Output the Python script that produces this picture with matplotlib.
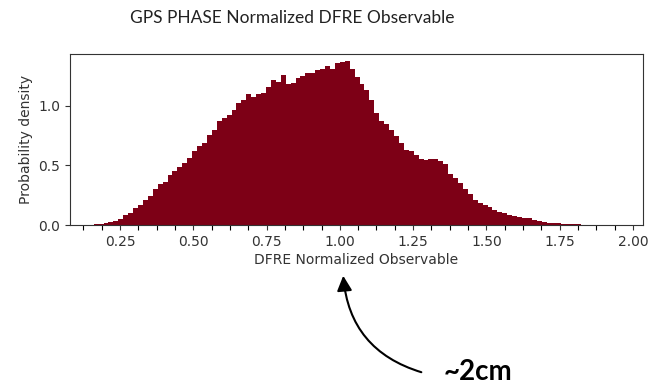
import matplotlib
matplotlib.use("Agg")
import matplotlib.pyplot as plt
import numpy as np
from matplotlib.ticker import MultipleLocator

# histogram bins (left edge, width) and density
BIN_START = 0.16
BIN_WIDTH = 0.0168
density = [
    0.006, 0.012, 0.020, 0.025, 0.035, 0.050, 0.080, 0.100, 0.145, 0.170,
    0.210, 0.240, 0.300, 0.340, 0.360, 0.420, 0.450, 0.490, 0.520, 0.560,
    0.620, 0.665, 0.690, 0.755, 0.800, 0.875, 0.895, 0.925, 0.965, 1.020,
    1.050, 1.095, 1.070, 1.100, 1.105, 1.160, 1.215, 1.200, 1.255, 1.185,
    1.190, 1.230, 1.250, 1.275, 1.270, 1.300, 1.310, 1.330, 1.310, 1.360,
    1.365, 1.370, 1.310, 1.240, 1.185, 1.130, 1.050, 0.935, 0.870, 0.846,
    0.800, 0.745, 0.685, 0.630, 0.622, 0.590, 0.550, 0.545, 0.550, 0.556,
    0.540, 0.510, 0.430, 0.390, 0.350, 0.300, 0.260, 0.210, 0.185, 0.170,
    0.150, 0.130, 0.112, 0.100, 0.085, 0.078, 0.068, 0.060, 0.055, 0.040,
    0.030, 0.022, 0.015, 0.014, 0.014, 0.012, 0.009, 0.007, 0.006, 0.004,
]
edges = BIN_START + BIN_WIDTH * np.arange(len(density))

title = "GPS PHASE Normalized DFRE Observable"
xlabel = "DFRE Normalized Observable"
ylabel = "Probability density"
note = "~2cm"

BAR_COLOR = "#7d0016"

fig = plt.figure(figsize=(6.48, 3.86), dpi=100)
ax = fig.add_axes([0.108, 0.417, 0.884, 0.443])
ax.bar(edges, density, width=BIN_WIDTH, align="edge", color=BAR_COLOR, linewidth=0)

ax.set_xlim(0.079, 2.034)
ax.set_ylim(0, 1.432)
ax.xaxis.set_major_locator(MultipleLocator(0.25))
ax.xaxis.set_minor_locator(MultipleLocator(0.0625))
ax.yaxis.set_major_locator(MultipleLocator(0.5))
ax.tick_params(axis="x", which="minor", length=3.5, width=0.8)
ax.tick_params(labelsize=10, colors="#333333")
for s in ax.spines.values():
    s.set_color("#333333")
ax.set_xlabel(xlabel, fontsize=10, color="#333333", labelpad=3)
ax.set_ylabel(ylabel, fontsize=10, color="#333333")

fig.text(0.451, 0.953, title, ha="center", va="center", fontsize=12.5,
         family="Lato", color="#222222")

# curved arrow pointing at 1.00 with the annotation text
fig.text(0.684, 0.036, note, ha="left", va="center", fontsize=20,
         family="Lato", fontweight="bold", color="black")
ax.annotate("", xy=(343, 113), xycoords="figure pixels",
            xytext=(424, 13), textcoords="figure pixels",
            arrowprops=dict(arrowstyle="-|>,head_length=0.9,head_width=0.45",
                            color="black", lw=1.5,
                            connectionstyle="arc3,rad=-0.35"),
            annotation_clip=False)

fig.savefig("out.png", dpi=100)
